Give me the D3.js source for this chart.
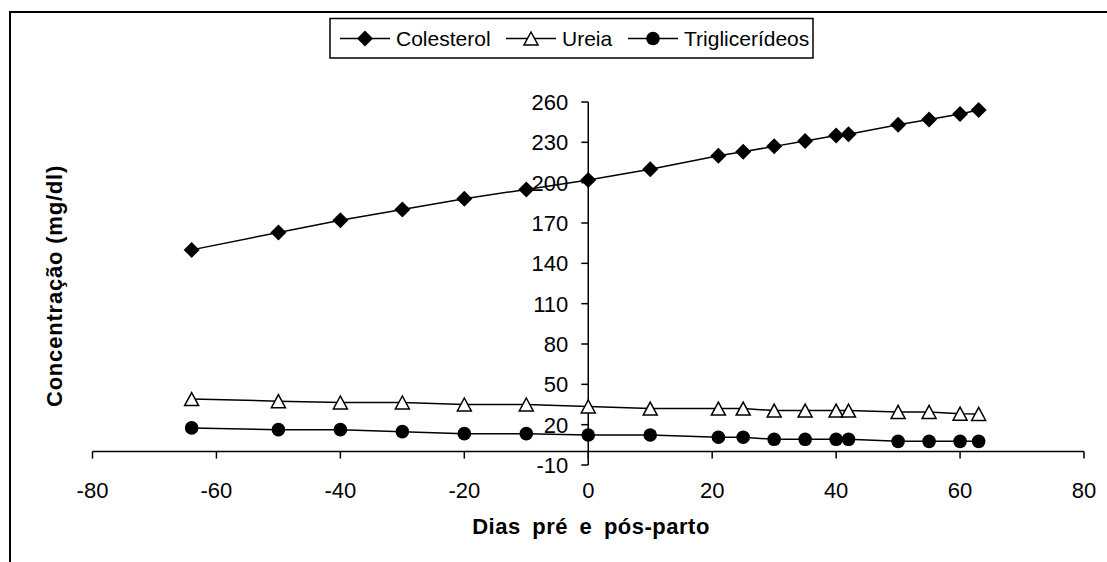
<!DOCTYPE html>
<html>
<head>
<meta charset="utf-8">
<script src="https://cdn.jsdelivr.net/npm/d3@7"></script>
<style>
  html, body { margin: 0; padding: 0; background: #fff; }
  svg { display: block; font-family: "Liberation Sans", Arial, sans-serif; }
</style>
</head>
<body>
<svg id="chart" width="1107" height="562"></svg>
<script>
// ---- data ----
const days = [-64, -50, -40, -30, -20, -10, 0, 10, 21, 25, 30, 35, 40, 42, 50, 55, 60, 63];
const colesterol = [150, 163, 172, 180, 188, 195, 202, 210, 220, 223, 227, 231, 235, 236, 243, 247, 251, 254];
const ureia = [39, 37.5, 36.5, 36.5, 35, 35, 33.5, 32, 32, 32, 30.5, 30.5, 30.5, 30.5, 29.5, 29.5, 28.2, 28];
const triglicerideos = [17.6, 16.3, 16.3, 14.8, 13.3, 13.3, 12.3, 12.3, 10.6, 10.6, 9.1, 9.1, 9.1, 9.1, 7.6, 7.6, 7.6, 7.6];
const seriesNames = ["Colesterol", "Ureia", "Triglicerídeos"];
const xTicks = [-80, -60, -40, -20, 0, 20, 40, 60, 80];
const yTicks = [-10, 20, 50, 80, 110, 140, 170, 200, 230, 260];
const xTitle = "Dias pré e pós-parto";
const yTitle = "Concentração (mg/dl)";

// ---- layout ----
const svg = d3.select("#chart");
const x = d3.scaleLinear().domain([-80, 80]).range([92.5, 1084]);
const y = d3.scaleLinear().domain([-10, 260]).range([465, 102]);
const x0 = x(0), y0 = y(0);

// outer frame (extends beyond the view on right and bottom)
svg.append("path")
  .attr("d", `M10,600 L10,12 L1120,12`)
  .attr("fill", "none").attr("stroke", "#000").attr("stroke-width", 2);

const fontSize = 22;

// x axis
const xAxisG = svg.append("g").attr("transform", `translate(0,${y0})`);
xAxisG.append("line").attr("x1", x(-80)).attr("x2", x(80)).attr("y1", 0).attr("y2", 0)
  .attr("stroke", "#000").attr("stroke-width", 1.5);
xAxisG.selectAll("line.tick").data(xTicks).join("line")
  .attr("class", "tick")
  .attr("x1", d => x(d)).attr("x2", d => x(d)).attr("y1", 0).attr("y2", 7)
  .attr("stroke", "#000").attr("stroke-width", 1.5);
xAxisG.selectAll("text").data(xTicks).join("text")
  .attr("x", d => x(d)).attr("y", 46)
  .attr("text-anchor", "middle").attr("font-size", fontSize)
  .text(d => d);

// y axis
const yAxisG = svg.append("g").attr("transform", `translate(${x0},0)`);
yAxisG.append("line").attr("x1", 0).attr("x2", 0).attr("y1", y(-10)).attr("y2", y(260))
  .attr("stroke", "#000").attr("stroke-width", 1.5);
yAxisG.selectAll("line.tick").data(yTicks).join("line")
  .attr("class", "tick")
  .attr("x1", -7).attr("x2", 0).attr("y1", d => y(d)).attr("y2", d => y(d))
  .attr("stroke", "#000").attr("stroke-width", 1.5);
yAxisG.selectAll("text").data(yTicks).join("text")
  .attr("x", -20).attr("y", d => y(d)).attr("dy", "0.36em")
  .attr("text-anchor", "end").attr("font-size", fontSize)
  .text(d => d);

// axis titles
svg.append("text")
  .attr("x", 591).attr("y", 534)
  .attr("text-anchor", "middle").attr("font-size", fontSize).attr("font-weight", "bold")
  .attr("word-spacing", 5).attr("letter-spacing", 0.5)
  .text(xTitle);
svg.append("text")
  .attr("transform", `translate(62,286) rotate(-90)`)
  .attr("text-anchor", "middle").attr("font-size", fontSize).attr("font-weight", "bold")
  .attr("letter-spacing", 0.8)
  .text(yTitle);

// markers
function drawMarker(g, type, cx, cy) {
  if (type === 0) {
    const r = 8;
    g.append("path").attr("d", `M${cx},${cy - r}L${cx + r},${cy}L${cx},${cy + r}L${cx - r},${cy}Z`)
      .attr("fill", "#000");
  } else if (type === 1) {
    const w = 7, h = 6.5;
    g.append("path").attr("d", `M${cx},${cy - h}L${cx + w},${cy + h}L${cx - w},${cy + h}Z`)
      .attr("fill", "#fff").attr("stroke", "#000").attr("stroke-width", 1.5);
  } else {
    g.append("circle").attr("cx", cx).attr("cy", cy).attr("r", 6.8).attr("fill", "#000");
  }
}

const allSeries = [colesterol, ureia, triglicerideos];
const line = d3.line().x(d => x(d[0])).y(d => y(d[1]));
allSeries.forEach((vals, i) => {
  const pts = days.map((d, j) => [d, vals[j]]);
  const g = svg.append("g");
  g.append("path").attr("d", line(pts)).attr("fill", "none").attr("stroke", "#000").attr("stroke-width", 1.5);
  pts.forEach(p => drawMarker(g, i, x(p[0]), y(p[1])));
});

// legend
const lg = svg.append("g");
lg.append("rect").attr("x", 330).attr("y", 18.5).attr("width", 483).attr("height", 39.5)
  .attr("fill", "#fff").attr("stroke", "#000").attr("stroke-width", 1.5);
const legendX = [340, 506, 628];
const legendY = 38.5;
seriesNames.forEach((name, i) => {
  const lx = legendX[i];
  lg.append("line").attr("x1", lx).attr("x2", lx + 50).attr("y1", legendY).attr("y2", legendY)
    .attr("stroke", "#000").attr("stroke-width", 1.5);
  drawMarker(lg, i, lx + 25, legendY);
  lg.append("text").attr("x", lx + 56).attr("y", legendY).attr("dy", "0.36em")
    .attr("font-size", 21).text(name);
});
</script>
</body>
</html>
